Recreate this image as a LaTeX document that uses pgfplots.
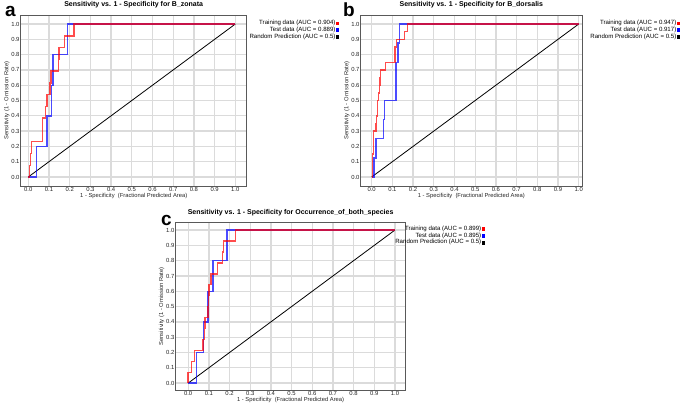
\documentclass[border=0pt]{standalone}
\usepackage{fontspec}
\setmainfont{Liberation Sans}
\usepackage{pgfplots}
\pgfplotsset{compat=1.18}
\pgfplotsset{
  rocaxis/.style={
    scale only axis,
    xtick={0,0.1,0.2,0.3,0.4,0.5,0.6,0.7,0.8,0.9,1.0},
    ytick={0,0.1,0.2,0.3,0.4,0.5,0.6,0.7,0.8,0.9,1.0},
    /pgf/number format/.cd, fixed, fixed zerofill, precision=1, assume math mode=true, /pgfplots/.cd,
    tick label style={font=\fontsize{5.9}{6}\selectfont, color=black!85, inner sep=1pt},
    major tick length=0pt,
    grid=major,
    major grid style={black!14, line width=1.3pt},
    axis line style={black!65, line width=0.7pt},
    title style={font=\bfseries\fontsize{7}{7}\selectfont, inner sep=1pt},
    xlabel={1 - Specificity\ \ (Fractional Predicted Area)},
    ylabel={Sensitivity (1 - Omission Rate)},
    label style={font=\fontsize{5.8}{6}\selectfont, inner sep=0.5pt, color=black!85},
    legend cell align=right,
    legend plot pos=right,
    legend image code/.code={\fill[#1,opacity=1] (0pt,-1.3pt) rectangle (2.6pt,1.3pt);},
    legend style={draw=none, fill=none, font=\fontsize{6.1}{6}\selectfont,
      nodes={inner sep=0.4pt, text height=4.4pt, text depth=1.6pt},
      /tikz/every even column/.append style={column sep=2.5pt}},
  },
  train/.style={color=red, line width=1.4pt, opacity=0.7},
  test/.style={color=blue, line width=1.4pt, opacity=0.7},
  rand/.style={color=black, line width=0.8pt},
  trainL/.style={color=red},
  testL/.style={color=blue},
  randL/.style={color=black},
}
\begin{document}
\begin{tikzpicture}[x=1pt,y=1pt]
\useasboundingbox (0,0) rectangle (685,-408);

% ---------------- panel a
\begin{axis}[rocaxis, at={(20.7pt,-15pt)}, anchor=north west,
  width=226pt, height=171pt,
  xmin=-0.0367, xmax=1.055, ymin=-0.059, ymax=1.059,
  title={Sensitivity vs. 1 - Specificity for B\_zonata},
  legend style={at={(1.422,0.985)}, anchor=north east}]
\addlegendimage{trainL}\addlegendentry{Training data (AUC = 0.904)}
\addlegendimage{testL}\addlegendentry{Test data (AUC = 0.889)}
\addlegendimage{randL}\addlegendentry{Random Prediction (AUC = 0.5)}
\addplot[rand, forget plot] coordinates {(0,0) (1,1)};
\addplot[test, forget plot] coordinates {(0,0) (0.04,0) (0.04,0.2) (0.09,0.2) (0.09,0.4) (0.112,0.4) (0.112,0.6) (0.12,0.6) (0.12,0.8) (0.19,0.8) (0.19,1) (1,1)};
\addplot[train, forget plot] coordinates {(0,0) (0.005,0) (0.005,0.077) (0.01,0.077) (0.01,0.154) (0.015,0.154) (0.015,0.231) (0.068,0.231) (0.068,0.385) (0.082,0.385) (0.082,0.462) (0.09,0.462) (0.09,0.538) (0.105,0.538) (0.105,0.615) (0.11,0.615) (0.11,0.692) (0.145,0.692) (0.145,0.769) (0.148,0.769) (0.148,0.846) (0.175,0.846) (0.175,0.923) (0.22,0.923) (0.22,1) (1,1)};
\end{axis}

% ---------------- panel b
\begin{axis}[rocaxis, at={(360.7pt,-15pt)}, anchor=north west,
  width=221.3pt, height=171pt,
  xmin=-0.053, xmax=1.016, ymin=-0.059, ymax=1.059,
  title={Sensitivity vs. 1 - Specificity for B\_dorsalis},
  legend style={at={(1.456,0.985)}, anchor=north east}]
\addlegendimage{trainL}\addlegendentry{Training data (AUC = 0.947)}
\addlegendimage{testL}\addlegendentry{Test data (AUC = 0.917)}
\addlegendimage{randL}\addlegendentry{Random Prediction (AUC = 0.5)}
\addplot[rand, forget plot] coordinates {(0,0) (1,1)};
\addplot[test, forget plot] coordinates {(0,0) (0.012,0) (0.012,0.125) (0.02,0.125) (0.02,0.25) (0.058,0.25) (0.058,0.375) (0.062,0.375) (0.062,0.5) (0.117,0.5) (0.117,0.75) (0.127,0.75) (0.127,0.875) (0.133,0.875) (0.133,1) (1,1)};
\addplot[train, forget plot] coordinates {(0,0) (0.003,0) (0.003,0.15) (0.008,0.15) (0.008,0.25) (0.01,0.25) (0.01,0.3) (0.02,0.3) (0.02,0.35) (0.024,0.35) (0.024,0.4) (0.027,0.4) (0.027,0.5) (0.033,0.5) (0.033,0.55) (0.037,0.55) (0.037,0.6) (0.04,0.6) (0.04,0.65) (0.043,0.65) (0.043,0.7) (0.067,0.7) (0.067,0.75) (0.113,0.75) (0.113,0.85) (0.12,0.85) (0.12,0.9) (0.16,0.9) (0.16,0.95) (0.172,0.95) (0.172,1) (1,1)};
\end{axis}

% ---------------- panel c
\begin{axis}[rocaxis, at={(175.5pt,-222.7pt)}, anchor=north west,
  width=230.2pt, height=167.3pt,
  xmin=-0.0613, xmax=1.052, ymin=-0.045, ymax=1.048,
  title={Sensitivity vs. 1 - Specificity for Occurrence\_of\_both\_species},
  legend style={at={(1.357,0.997)}, anchor=north east}]
\addlegendimage{trainL}\addlegendentry{Training data (AUC = 0.899)}
\addlegendimage{testL}\addlegendentry{Test data (AUC = 0.895)}
\addlegendimage{randL}\addlegendentry{Random Prediction (AUC = 0.5)}
\addplot[rand, forget plot] coordinates {(0,0) (1,1)};
\addplot[test, forget plot] coordinates {(0,0) (0.039,0) (0.039,0.2) (0.075,0.2) (0.075,0.4) (0.095,0.4) (0.095,0.6) (0.12,0.6) (0.12,0.8) (0.188,0.8) (0.188,1) (1,1)};
\addplot[train, forget plot] coordinates {(0,0) (0,0.071) (0.015,0.071) (0.015,0.143) (0.03,0.143) (0.03,0.214) (0.072,0.214) (0.072,0.286) (0.078,0.286) (0.078,0.357) (0.081,0.357) (0.081,0.429) (0.095,0.429) (0.095,0.5) (0.097,0.5) (0.097,0.571) (0.1,0.571) (0.1,0.643) (0.11,0.643) (0.11,0.714) (0.143,0.714) (0.143,0.786) (0.165,0.786) (0.165,0.857) (0.17,0.857) (0.17,0.929) (0.23,0.929) (0.23,1) (1,1)};
\end{axis}

\node[anchor=base west, inner sep=0pt, font=\bfseries\fontsize{19}{19}\selectfont] at (5,-16) {a};
\node[anchor=base west, inner sep=0pt, font=\bfseries\fontsize{19}{19}\selectfont] at (343,-16) {b};
\node[anchor=base west, inner sep=0pt, font=\bfseries\fontsize{19}{19}\selectfont] at (161,-225) {c};
\end{tikzpicture}
\end{document}
